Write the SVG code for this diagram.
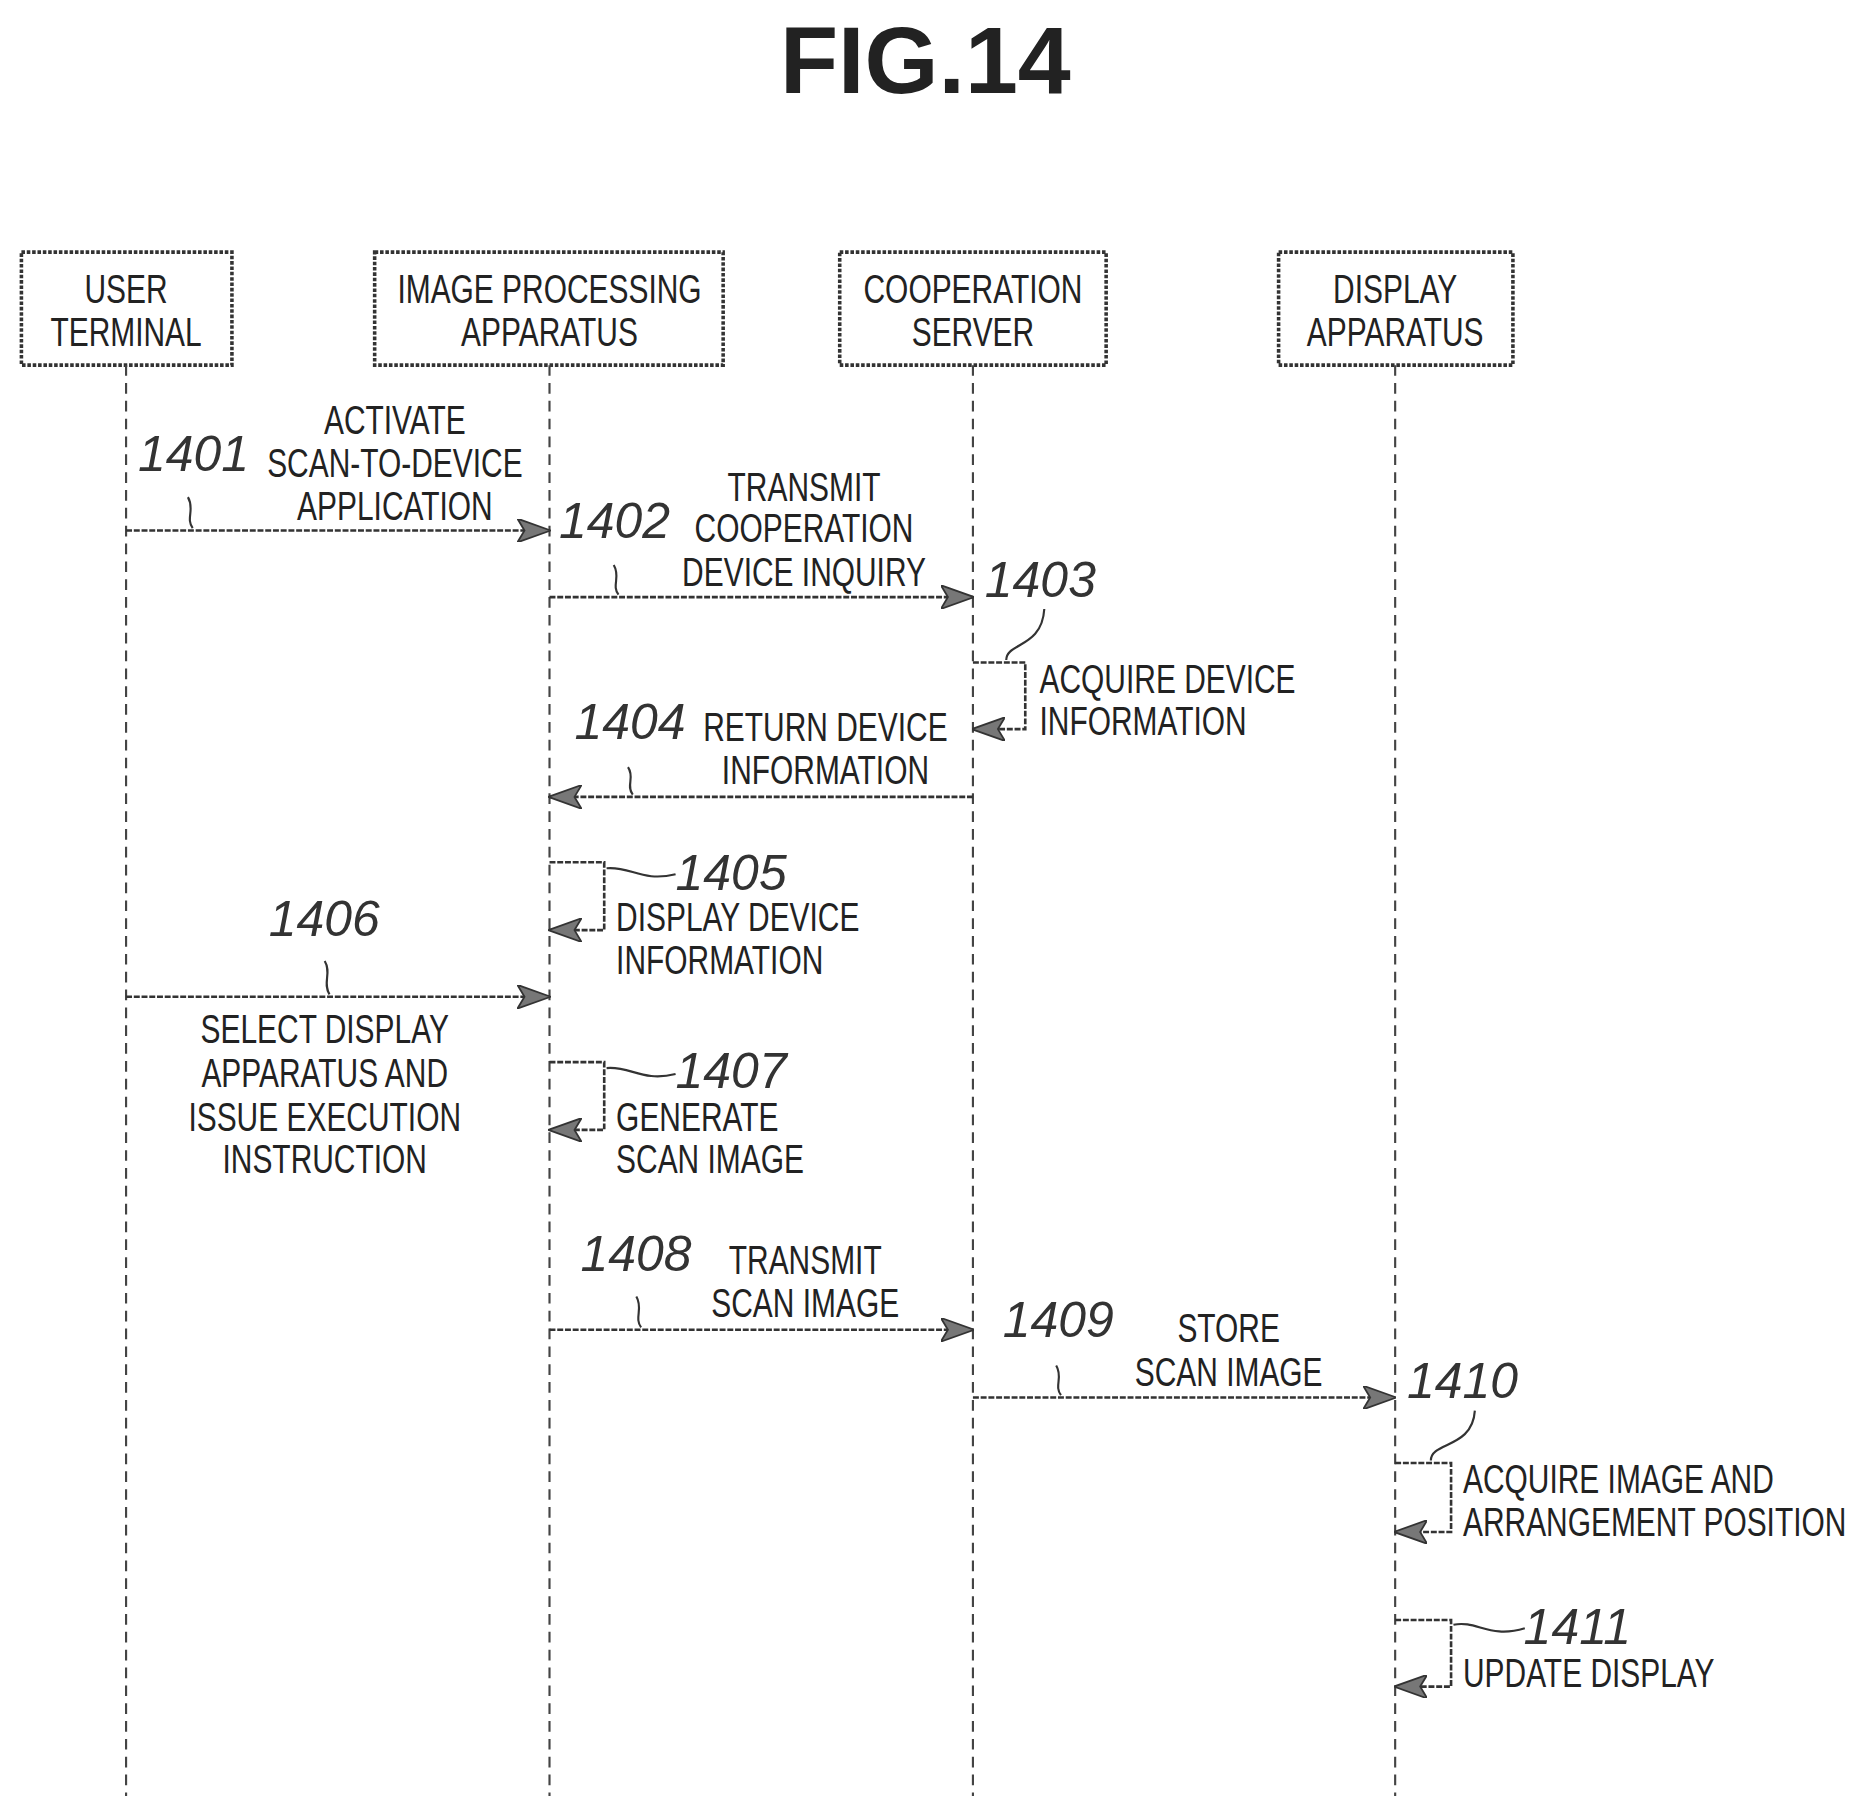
<svg xmlns="http://www.w3.org/2000/svg" width="1865" height="1817" viewBox="0 0 1865 1817">
<style>
.box{fill:#fff;stroke:#333;stroke-width:3;stroke-dasharray:3 1.5}
.life{stroke:#444;stroke-width:1.8;stroke-dasharray:9 6;fill:none}
.msg{stroke:#333;stroke-width:2.2;stroke-dasharray:5 1.5;fill:none}
.lead{stroke:#333;stroke-width:1.8;fill:none}
.t{font-family:"Liberation Sans",Arial,sans-serif;font-size:34px;fill:#222}
.n{font-family:"Liberation Sans",Arial,sans-serif;font-size:42px;font-style:italic;fill:#333}
</style>
<defs>
<marker id="ah" markerWidth="14" markerHeight="12" refX="13" refY="6" orient="auto" markerUnits="userSpaceOnUse"><path d="M0,0 L14,6 L0,12 L3,6 Z" fill="#666" stroke="#333" stroke-width="1"/></marker>
<marker id="ahs" markerWidth="28" markerHeight="20" refX="27" refY="10" orient="auto" markerUnits="userSpaceOnUse"><path d="M0,0 L28,10 L0,20 L6,10 Z" fill="#777" stroke="#333" stroke-width="1.5"/></marker>
</defs>
<rect width="1865" height="1817" fill="#fff"/>
<g transform="scale(1.1894)">
<text x="778" y="78" text-anchor="middle" font-family="Liberation Sans,Arial,sans-serif" font-weight="bold" font-size="80" fill="#222">FIG.14</text>
<g id="user-terminal"><rect class="box" x="18" y="212" width="177" height="95"/><text class="t" text-anchor="middle" transform="translate(106 255) scale(0.74 1)">USER</text><text class="t" text-anchor="middle" transform="translate(106 291) scale(0.74 1)">TERMINAL</text></g>
<g id="image-processing"><rect class="box" x="315" y="212" width="293" height="95"/><text class="t" text-anchor="middle" transform="translate(462 255) scale(0.74 1)">IMAGE PROCESSING</text><text class="t" text-anchor="middle" transform="translate(462 291) scale(0.74 1)">APPARATUS</text></g>
<g id="cooperation-server"><rect class="box" x="706" y="212" width="224" height="95"/><text class="t" text-anchor="middle" transform="translate(818 255) scale(0.74 1)">COOPERATION</text><text class="t" text-anchor="middle" transform="translate(818 291) scale(0.74 1)">SERVER</text></g>
<g id="display-apparatus"><rect class="box" x="1075" y="212" width="197" height="95"/><text class="t" text-anchor="middle" transform="translate(1173 255) scale(0.74 1)">DISPLAY</text><text class="t" text-anchor="middle" transform="translate(1173 291) scale(0.74 1)">APPARATUS</text></g>
<g id="connectors">
<path class="life" d="M106,307V1510M462,307V1510M818,307V1510M1173,307V1510"/>
<path class="msg" d="M106,446H462" marker-end="url(#ahs)"/>
<path class="msg" d="M462,502H818" marker-end="url(#ahs)"/>
<path class="msg" d="M818,557H862V613H818" marker-end="url(#ahs)"/>
<path class="msg" d="M818,670H462" marker-end="url(#ahs)"/>
<path class="msg" d="M462,725H508V782H462" marker-end="url(#ahs)"/>
<path class="msg" d="M106,838H462" marker-end="url(#ahs)"/>
<path class="msg" d="M462,893H508V950H462" marker-end="url(#ahs)"/>
<path class="msg" d="M462,1118H818" marker-end="url(#ahs)"/>
<path class="msg" d="M818,1175H1173" marker-end="url(#ahs)"/>
<path class="msg" d="M1173,1230H1220V1288H1173" marker-end="url(#ahs)"/>
<path class="msg" d="M1173,1362H1220V1418H1173" marker-end="url(#ahs)"/>
<path class="lead" d="M158,418C164,428 156,436 162,444"/>
<path class="lead" d="M516,475C522,485 514,492 520,500"/>
<path class="lead" d="M846,555C846,540 876,545 878,512"/>
<path class="lead" d="M528,645C534,654 526,660 532,668"/>
<path class="lead" d="M510,730C530,728 540,742 568,735"/>
<path class="lead" d="M273,808C279,818 271,826 277,836"/>
<path class="lead" d="M510,898C530,896 540,910 568,903"/>
<path class="lead" d="M535,1090C541,1100 533,1108 539,1116"/>
<path class="lead" d="M888,1148C894,1158 886,1165 892,1173"/>
<path class="lead" d="M1203,1228C1203,1212 1238,1218 1240,1186"/>
<path class="lead" d="M1222,1366C1242,1362 1252,1378 1282,1369"/>
</g>
<g id="labels">
<text class="t" text-anchor="middle" transform="translate(332 365) scale(0.74 1)">ACTIVATE</text>
<text class="t" text-anchor="middle" transform="translate(332 401) scale(0.74 1)">SCAN-TO-DEVICE</text>
<text class="t" text-anchor="middle" transform="translate(332 437) scale(0.74 1)">APPLICATION</text>
<text class="n" x="116" y="396">1401</text>
<text class="t" text-anchor="middle" transform="translate(676 421) scale(0.74 1)">TRANSMIT</text>
<text class="t" text-anchor="middle" transform="translate(676 456) scale(0.74 1)">COOPERATION</text>
<text class="t" text-anchor="middle" transform="translate(676 493) scale(0.74 1)">DEVICE INQUIRY</text>
<text class="n" x="470" y="452">1402</text>
<text class="n" x="828" y="502">1403</text>
<text class="t" transform="translate(874 583) scale(0.74 1)">ACQUIRE DEVICE</text>
<text class="t" transform="translate(874 618) scale(0.74 1)">INFORMATION</text>
<text class="n" x="483" y="621">1404</text>
<text class="t" text-anchor="middle" transform="translate(694 623) scale(0.74 1)">RETURN DEVICE</text>
<text class="t" text-anchor="middle" transform="translate(694 659) scale(0.74 1)">INFORMATION</text>
<text class="n" x="568" y="748">1405</text>
<text class="t" transform="translate(518 783) scale(0.74 1)">DISPLAY DEVICE</text>
<text class="t" transform="translate(518 819) scale(0.74 1)">INFORMATION</text>
<text class="n" x="226" y="787">1406</text>
<text class="t" text-anchor="middle" transform="translate(273 877) scale(0.74 1)">SELECT DISPLAY</text>
<text class="t" text-anchor="middle" transform="translate(273 914) scale(0.74 1)">APPARATUS AND</text>
<text class="t" text-anchor="middle" transform="translate(273 951) scale(0.74 1)">ISSUE EXECUTION</text>
<text class="t" text-anchor="middle" transform="translate(273 986) scale(0.74 1)">INSTRUCTION</text>
<text class="n" x="568" y="915">1407</text>
<text class="t" transform="translate(518 951) scale(0.74 1)">GENERATE</text>
<text class="t" transform="translate(518 986) scale(0.74 1)">SCAN IMAGE</text>
<text class="n" x="488" y="1069">1408</text>
<text class="t" text-anchor="middle" transform="translate(677 1071) scale(0.74 1)">TRANSMIT</text>
<text class="t" text-anchor="middle" transform="translate(677 1107) scale(0.74 1)">SCAN IMAGE</text>
<text class="n" x="843" y="1124">1409</text>
<text class="t" text-anchor="middle" transform="translate(1033 1128) scale(0.74 1)">STORE</text>
<text class="t" text-anchor="middle" transform="translate(1033 1165) scale(0.74 1)">SCAN IMAGE</text>
<text class="n" x="1183" y="1175">1410</text>
<text class="t" transform="translate(1230 1255) scale(0.74 1)">ACQUIRE IMAGE AND</text>
<text class="t" transform="translate(1230 1291) scale(0.74 1)">ARRANGEMENT POSITION</text>
<text class="n" x="1281" y="1382">1411</text>
<text class="t" transform="translate(1230 1418) scale(0.74 1)">UPDATE DISPLAY</text>
</g>
</g>
</svg>
